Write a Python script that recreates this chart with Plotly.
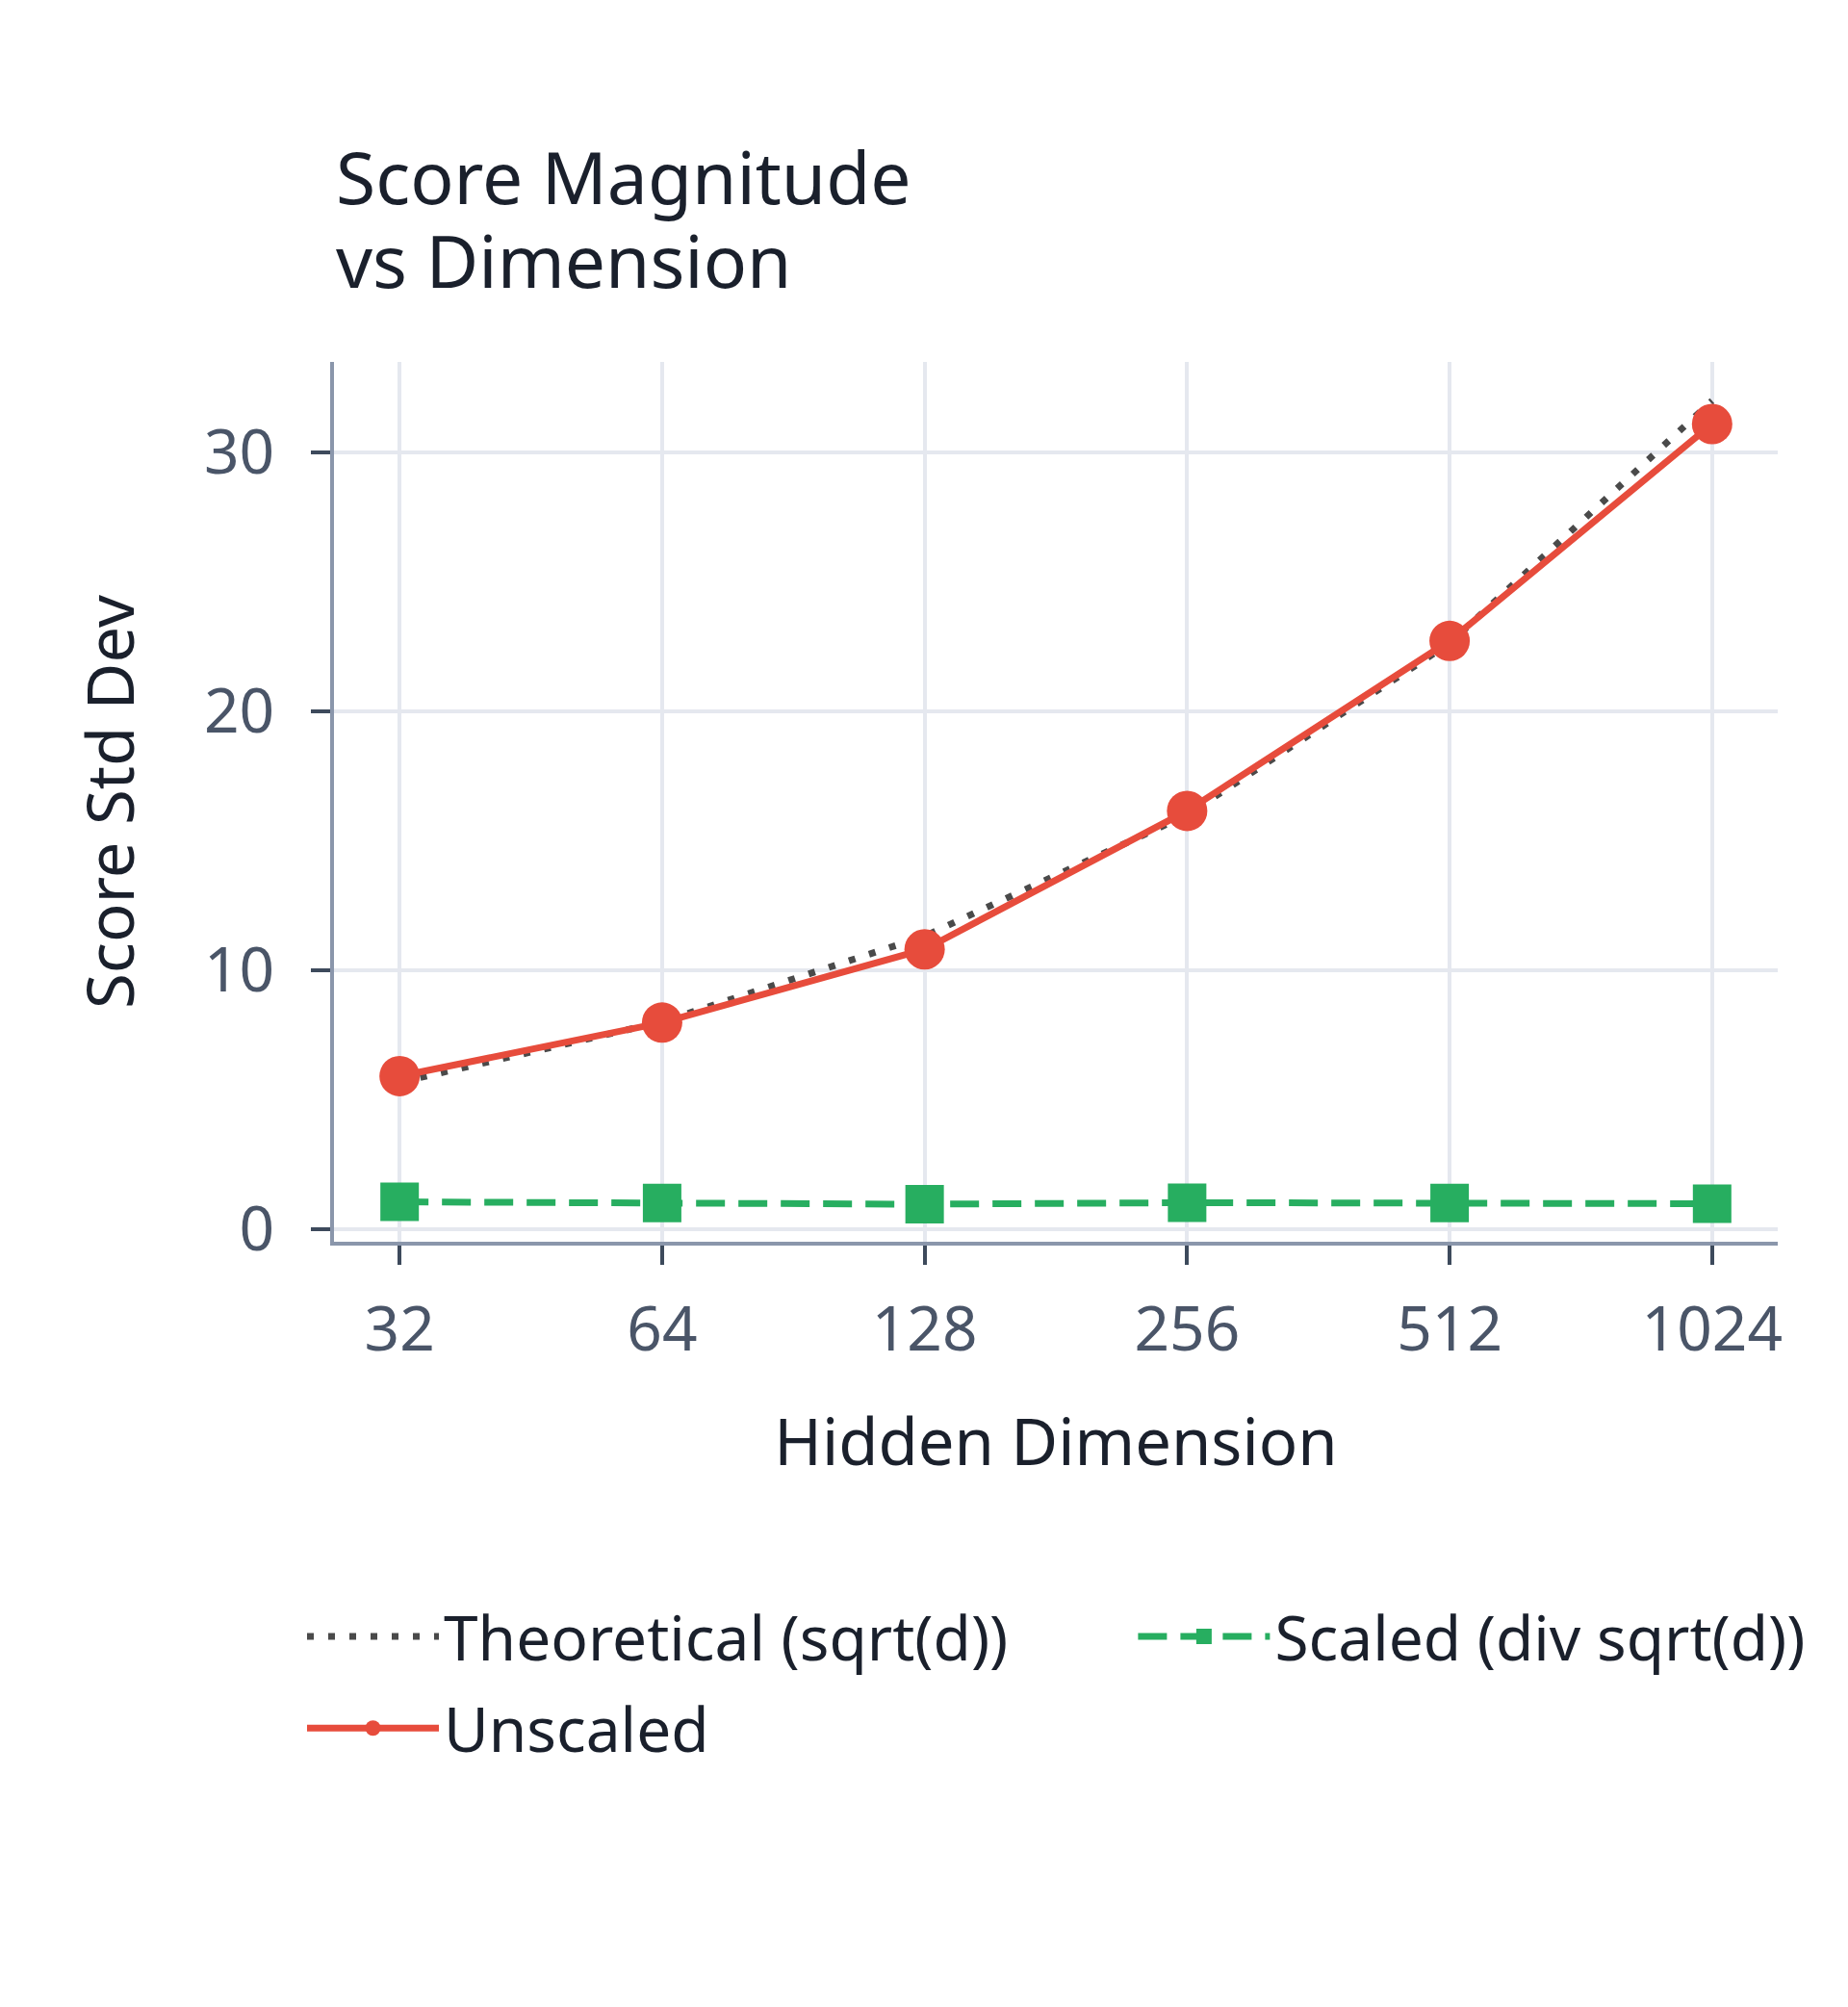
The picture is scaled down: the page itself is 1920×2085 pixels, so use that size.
import plotly.graph_objects as go

dims = ["32", "64", "128", "256", "512", "1024"]
theoretical = [5.66, 8.0, 11.31, 16.0, 22.63, 32.0]
unscaled = [5.9, 7.97, 10.8, 16.15, 22.72, 31.1]
scaled = [1.04, 1.0, 0.95, 1.01, 1.0, 0.97]

title_lines = ["Score Magnitude", "vs Dimension"]

FONT = "Noto Sans"
DARK = "#1a202c"

fig = go.Figure()
fig.add_trace(go.Scatter(
    x=dims, y=theoretical, name="Theoretical (sqrt(d))", mode="lines",
    line=dict(color="#4a4a4a", width=7, dash="7px,15px"),
    legend="legend", legendgroup="a",
))
fig.add_trace(go.Scatter(
    x=dims, y=scaled, name="Scaled (div sqrt(d))", mode="lines+markers",
    line=dict(color="#27ae60", width=7, dash="30px,14px"),
    marker=dict(symbol="square", size=40, color="#27ae60"),
    legend="legend2",
))
fig.add_trace(go.Scatter(
    x=dims, y=unscaled, name="Unscaled", mode="lines+markers",
    line=dict(color="#e74c3c", width=7),
    marker=dict(symbol="circle", size=42, color="#e74c3c"),
    legend="legend", legendgroup="c",
))

# title drawn as two annotations so the line spacing can be tighter
for txt, yy in zip(title_lines, [1.1532, 1.0580]):
    fig.add_annotation(
        text=txt, xref="paper", yref="paper", x=0, y=yy,
        xanchor="left", yanchor="bottom", showarrow=False,
        font=dict(family=FONT, size=75, color=DARK),
    )

legend_common = dict(
    orientation="v", xref="paper", yref="paper",
    xanchor="left", yanchor="top", y=-0.396,
    font=dict(family=FONT, size=64, color=DARK),
    itemwidth=137, tracegroupgap=9,
    bgcolor="rgba(0,0,0,0)",
)

fig.update_layout(
    width=1920, height=2085,
    paper_bgcolor="white", plot_bgcolor="white",
    font=dict(family=FONT, color=DARK),
    margin=dict(l=339, r=81, t=368, b=803),
    showlegend=True,
    legend=dict(x=-0.022, **legend_common),
    legend2=dict(x=0.5536, **legend_common),
)

fig.update_xaxes(
    type="category", range=[-0.25, 5.25],
    showgrid=True, gridcolor="#e5e8ef", gridwidth=4,
    showline=True, linecolor="#8a96ab", linewidth=4,
    ticks="outside", ticklen=20, tickwidth=4, tickcolor="#3d4a5c",
    ticklabelstandoff=12,
    tickfont=dict(family=FONT, size=64, color="#4a5568"),
    title=dict(text="Hidden Dimension", font=dict(family=FONT, size=67, color=DARK), standoff=55),
    zeroline=False,
)
fig.update_yaxes(
    range=[-0.5, 33.5], tickvals=[0, 10, 20, 30],
    showgrid=True, gridcolor="#e5e8ef", gridwidth=4,
    showline=True, linecolor="#8a96ab", linewidth=4,
    ticks="outside", ticklen=20, tickwidth=4, tickcolor="#3d4a5c",
    ticklabelstandoff=25,
    tickfont=dict(family=FONT, size=64, color="#4a5568"),
    title=dict(text="Score Std Dev", font=dict(family=FONT, size=67, color=DARK), standoff=52),
    zeroline=False,
)

fig.write_html("out.html")
